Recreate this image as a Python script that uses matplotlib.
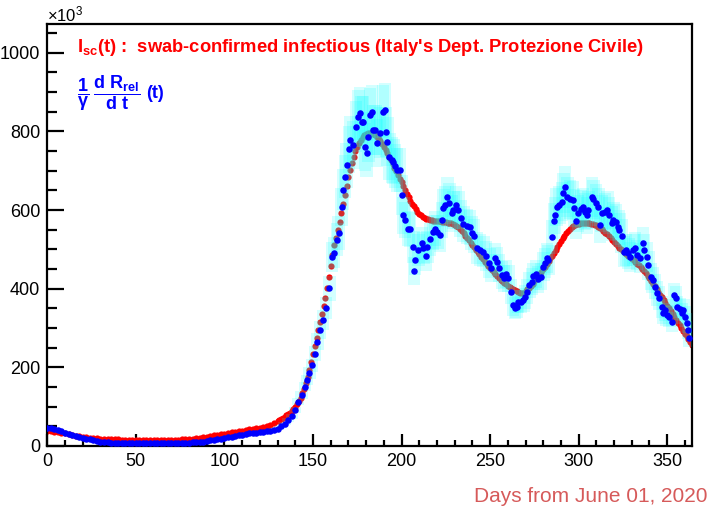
import matplotlib
matplotlib.use('Agg')
import matplotlib.pyplot as plt
from matplotlib.ticker import MultipleLocator

plt.rcParams['font.family'] = ['Liberation Sans', 'DejaVu Sans']
plt.rcParams['mathtext.fontset'] = 'custom'
plt.rcParams['mathtext.rm'] = 'Liberation Sans'
plt.rcParams['mathtext.bf'] = 'Liberation Sans:bold'
plt.rcParams['mathtext.it'] = 'Liberation Sans'

# ---------------- data (values in thousands) ----------------
# red: I_sc(t), every 2 days for the flat part
red_days_a = list(range(0, 130, 2))
red_vals_a = [37, 37, 36, 35, 34, 32, 30, 28, 26, 25, 23, 22, 21, 20, 19.5, 19, 18.5, 18, 17.5, 17,
              17, 16.5, 16.5, 16, 16, 16, 16, 15.5, 15.5, 15.5, 15.5, 15.5, 15.5, 15.5, 16, 16, 16,
              16.5, 17, 17.5, 18, 19, 20, 21, 22, 23.5, 25, 27, 28.5, 30, 31.5, 33, 34.5, 36, 37.5,
              39, 40.5, 42, 43, 44.5, 46, 48, 50, 54, 58]
# red: daily from day 130 on
red_days_b = list(range(130, 365))
red_vals_b = [63, 66, 69, 72, 75, 78, 81, 84, 88, 93, 99, 106, 114, 123, 134, 146, 160, 176, 194, 214,
              235, 255, 275, 295, 315, 335, 355, 377, 402, 430, 458, 485, 510, 530, 550, 570, 592, 615,
              638, 662, 685, 703, 720, 735, 749, 761, 771, 779, 786, 791, 794, 796, 796, 795, 793, 790,
              786, 781, 775, 768, 760, 752, 744, 735, 726, 717, 708, 699, 690, 680, 670, 660, 650, 641,
              632, 624, 616, 609, 602, 596, 591, 587, 583, 580, 578, 576, 575, 574, 573, 572, 572, 571,
              571, 570, 570, 569, 568, 567, 566, 564, 562, 559, 556, 552, 547, 541, 535, 529, 523, 517,
              511, 505, 499, 493, 487, 481, 475, 469, 463, 458, 453, 448, 442, 437, 432, 427, 423, 419,
              415, 411, 407, 404, 401, 398, 396, 394, 392, 390, 389, 390, 393, 398, 403, 408, 413, 419,
              425, 431, 437, 443, 449, 456, 463, 470, 477, 484, 491, 498, 506, 513, 521, 528, 535, 541,
              547, 552, 556, 559, 562, 564, 565, 566, 566, 566, 566, 566, 566, 565, 564, 563, 561, 558,
              555, 551, 547, 542, 538, 533, 528, 523, 518, 513, 508, 504, 500, 496, 492, 488, 484, 480,
              476, 472, 468, 464, 459, 454, 449, 444, 439, 433, 427, 420, 413, 406, 399, 392, 385, 378,
              371, 364, 357, 350, 343, 336, 329, 321, 314, 307, 300, 293, 286, 279, 272, 265, 258]

# blue: (1/gamma) dR_rel/dt
blue_days_a = list(range(0, 142, 2))
blue_vals_a = [45, 45, 43, 40, 37, 34, 31, 28, 26, 23, 21, 19, 17, 14, 12, 11, 10, 9, 8.5, 8,
               8, 8, 8, 8, 8, 8, 8, 8, 8, 8, 8, 8, 8, 8, 8, 8, 8, 8, 8, 8,
               8, 9, 9, 10, 11, 12, 14, 16, 17, 19, 21, 23, 24, 26, 27, 29, 31, 32, 33, 34,
               35, 36, 37, 38, 40, 44, 50, 57, 65, 76, 92]
blue_days_b = [141.7, 143.6, 145.5, 146.5, 148, 149.5, 151, 152.5, 154, 155.5, 157.4, 159.3, 160.6,
               161.9, 163.4, 164.5, 166.2, 167.1, 168.1, 169.0, 170.5, 170.9, 172.8, 174.3, 175.6,
               176.6, 177.5, 178.4, 179.4, 180.3, 181.3, 182.2, 183.2, 184.1, 185.2, 186.3, 187.9,
               189.4, 190.7, 191.1, 192.0, 193.1, 194.5, 195.4, 196.3, 197.6,
               199.1, 200.1, 201.0, 202.0, 203.9, 204.8, 206.7, 207.6, 207.0, 209.5, 211.4, 212.3,
               213.8, 214.6, 216.1, 217.6, 218.9, 220.3, 221.7, 222.9, 223.6, 224.6, 225.9, 227.0,
               228.3, 229.3, 230.8, 232.1, 233.4, 234.9, 236.8, 238.7, 239.6, 240.9, 242.5, 244.3,
               246.2, 247.7, 249.6, 250.4, 252.8, 253.8, 254.9, 256.6, 257.9, 259.0, 260.3, 261.8,
               263.1, 264.1, 265.0, 265.9, 267.3, 268.8, 269.7, 270.7, 272.2, 273.5, 274.4, 276.0,
               277.2, 278.6, 280.1, 281.0, 282.0, 282.9, 284.8, 286.1, 286.8, 287.6, 289.1, 290.5,
               291.4, 292.3, 293.6, 295.1, 296.7, 297.4, 298.5, 299.8, 301.2, 302.3, 303.6, 304.6,
               305.5, 307.4, 308.3, 309.8, 311.1, 312.1, 313.0, 314.9, 316.2, 317.3, 318.7, 319.6,
               321.1, 322.4, 323.0, 324.3, 325.6, 326.8, 328.1, 329.0, 330.9, 331.8, 333.1, 334.7,
               336.2, 336.9, 338.4, 339.4, 340.7, 341.8, 343.1, 344.4, 345.5, 346.9, 347.8, 348.8,
               349.7, 351.2, 352.6, 353.9, 355.0, 355.7, 357.3, 358.2, 359.1, 360.1, 361.0, 361.9,
               362.5]
blue_vals_b = [113, 130, 151, 168, 186, 205, 235, 265, 295, 320, 350, 401, 481,
               491, 524, 541, 608, 651, 685, 714, 754, 778, 765, 812, 837,
               846, 825, 825, 761, 744, 786, 842, 850, 803, 803, 770, 797,
               850, 854, 799, 774, 736, 727, 723, 712, 702,
               702, 638, 587, 575, 553, 551, 507, 473, 446, 498, 515, 503,
               483, 507, 526, 543, 553, 545, 536, 575, 604, 613, 634, 619,
               592, 600, 613, 600, 579, 564, 559, 556, 542, 534, 503, 498,
               494, 483, 465, 452, 477, 469, 452, 435, 426, 437, 426, 392,
               359, 350, 354, 367, 367, 371, 380, 392, 409, 418, 432, 437,
               424, 430, 456, 465, 477, 473, 531, 573, 587, 608, 613, 621,
               643, 659, 634, 627, 625, 604, 573, 592, 602, 608, 596, 587,
               600, 634, 627, 617, 608, 562, 592, 596, 600, 587, 566, 575,
               570, 556, 549, 534, 494, 498, 490, 481, 498, 503, 486, 477,
               515, 498, 481, 460, 430, 422, 405, 388, 376, 354, 337, 346,
               333, 329, 316, 384, 376, 354, 348, 337, 346, 329, 312, 295,
               274]

x_major = [0, 50, 100, 150, 200, 250, 300, 350]
y_major = [0, 200, 400, 600, 800, 1000]

# ---------------- figure ----------------
fig = plt.figure(figsize=(7.10, 5.11), dpi=100)
ax = fig.add_axes([47.3 / 710, 1 - 446 / 511, (692 - 47.3) / 710, (446 - 24) / 511])

red_days = red_days_a + red_days_b
red_vals = red_vals_a + red_vals_b
blue_days = blue_days_a + blue_days_b
blue_vals = blue_vals_a + blue_vals_b

ax.scatter(red_days, red_vals, s=20, color='#ff0000', linewidths=0, zorder=2)

errs = [0.08 * v for v in blue_vals]
ax.bar(blue_days, [2 * e for e in errs], bottom=[v - e for v, e in zip(blue_vals, errs)],
       width=7, color=(0.0, 1.0, 1.0), alpha=0.17, linewidth=0, zorder=3)

ax.scatter(blue_days, blue_vals, s=22, color='#0000ff', linewidths=0, zorder=4)

ax.set_xlim(0, 364)
ax.set_ylim(0, 1073)
ax.set_xticks(x_major)
ax.set_yticks(y_major)
ax.xaxis.set_minor_locator(MultipleLocator(10))
ax.yaxis.set_minor_locator(MultipleLocator(50))
ax.tick_params(which='both', direction='in', top=False, right=False, width=1.6, labelsize=13)
ax.tick_params(axis='x', which='major', length=8.6, pad=5)
ax.tick_params(axis='x', which='minor', length=4)
ax.tick_params(axis='y', which='major', length=12, pad=5)
ax.tick_params(axis='y', which='minor', length=7)
for sp in ax.spines.values():
    sp.set_linewidth(1.6)

fig.text(47 / 710, 1 - 14 / 511, r'$\times$10$^{3}$', fontsize=12, ha='left', va='center')

fig.text(77 / 710, 1 - 47 / 511,
         r'$\mathbf{I_{sc}}$(t) :  swab-confirmed infectious (Italy' + "'" + 's Dept. Protezione Civile)',
         color='#ff0000', fontsize=13.2, fontweight='bold', ha='left', va='center')
fig.text(77 / 710, 1 - 93 / 511,
         r'$\mathbf{\dfrac{1}{\gamma}}\;\mathbf{\dfrac{d\ R_{rel}}{d\ t}}$',
         color='#0000ff', fontsize=13, fontweight='bold', ha='left', va='center')
fig.text(146 / 710, 1 - 93 / 511, '(t)',
         color='#0000ff', fontsize=13, fontweight='bold', ha='left', va='center')

fig.text(708 / 710, 1 - 496 / 511, 'Days from June 01, 2020', color='#d65a5a',
         fontsize=15, ha='right', va='center')

fig.savefig('out.png', dpi=100)
